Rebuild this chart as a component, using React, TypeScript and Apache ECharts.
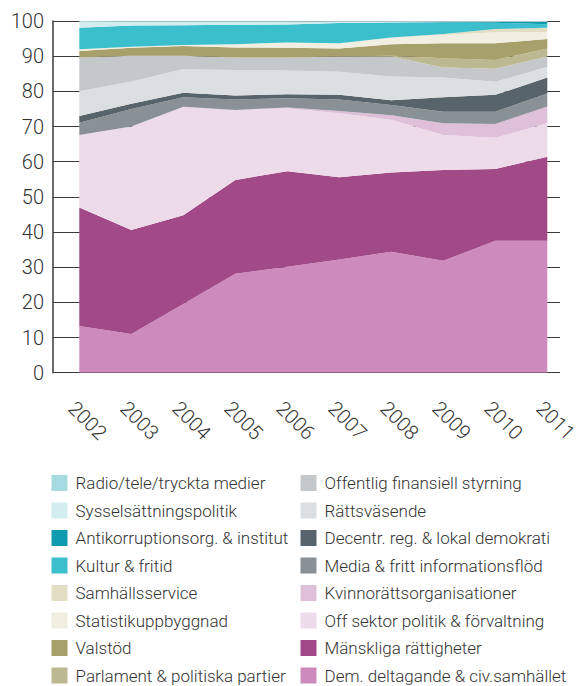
import React, { useEffect, useRef } from "react";
import * as echarts from "echarts";

const years = [2002, 2003, 2004, 2005, 2006, 2007, 2008, 2009, 2010, 2011];

// Stacked shares (%), bottom layer first
const demDeltagande = [13.3, 11.0, 19.5, 28.1, 30.1, 32.2, 34.4, 31.8, 37.5, 37.5];
const manskligaRattigheter = [33.7, 29.6, 25.3, 26.7, 27.2, 23.4, 22.5, 25.8, 20.4, 23.9];
const offSektor = [20.6, 29.4, 30.8, 19.9, 17.9, 18.2, 15.0, 10.0, 8.9, 9.5];
const kvinnorattsorg = [0, 0, 0, 0, 0.2, 0.6, 1.3, 3.3, 3.9, 4.8];
const mediaFritt = [3.5, 5.0, 2.7, 3.0, 2.6, 3.3, 2.9, 3.3, 3.5, 3.7];
const decentrReg = [1.9, 1.5, 1.3, 1.1, 1.2, 1.3, 1.4, 4.1, 4.8, 4.5];
const rattsvasende = [7.0, 6.3, 6.7, 7.3, 6.7, 6.6, 6.7, 5.6, 3.7, 3.1];
const offentligFinansiell = [9.6, 7.3, 3.8, 3.5, 3.7, 4.3, 5.7, 2.9, 3.7, 2.9];
const parlament = [0, 0, 0, 0, 0, 0, 0.2, 2.6, 2.5, 2.3];
const valstod = [1.9, 2.3, 2.8, 2.9, 2.8, 2.3, 3.3, 4.3, 4.8, 2.7];
const statistik = [0.5, 0.3, 0.3, 0.9, 1.5, 1.5, 1.9, 2.3, 3.1, 1.9];
const samhallsservice = [0, 0, 0, 0, 0, 0, 0, 0.3, 0.9, 1.3];
const kulturFritid = [6.1, 6.0, 5.6, 5.5, 5.1, 5.7, 4.3, 3.3, 1.8, 1.0];
const antikorruption = [0, 0, 0, 0, 0, 0, 0, 0.1, 0.2, 0.6];
const sysselsattning = [1.6, 1.1, 1.0, 0.9, 0.8, 0.5, 0.3, 0.2, 0.2, 0.2];
const radioTele = [0.3, 0.2, 0.2, 0.2, 0.2, 0.1, 0.1, 0.1, 0.1, 0.1];

const yTicks = [0, 10, 20, 30, 40, 50, 60, 70, 80, 90, 100];

const legendCol1 = [
  "Radio/tele/tryckta medier",
  "Sysselsättningspolitik",
  "Antikorruptionsorg. & institut",
  "Kultur & fritid",
  "Samhällsservice",
  "Statistikuppbyggnad",
  "Valstöd",
  "Parlament & politiska partier",
];
const legendCol2 = [
  "Offentlig finansiell styrning",
  "Rättsväsende",
  "Decentr. reg. & lokal demokrati",
  "Media & fritt informationsflöd",
  "Kvinnorättsorganisationer",
  "Off sektor politik & förvaltning",
  "Mänskliga rättigheter",
  "Dem. deltagande & civ.samhället",
];

const layers: [string, number[]][] = [
  ["Dem. deltagande & civ.samhället", demDeltagande],
  ["Mänskliga rättigheter", manskligaRattigheter],
  ["Off sektor politik & förvaltning", offSektor],
  ["Kvinnorättsorganisationer", kvinnorattsorg],
  ["Media & fritt informationsflöd", mediaFritt],
  ["Decentr. reg. & lokal demokrati", decentrReg],
  ["Rättsväsende", rattsvasende],
  ["Offentlig finansiell styrning", offentligFinansiell],
  ["Parlament & politiska partier", parlament],
  ["Valstöd", valstod],
  ["Statistikuppbyggnad", statistik],
  ["Samhällsservice", samhallsservice],
  ["Kultur & fritid", kulturFritid],
  ["Antikorruptionsorg. & institut", antikorruption],
  ["Sysselsättningspolitik", sysselsattning],
  ["Radio/tele/tryckta medier", radioTele],
];

const colors: Record<string, string> = {
  "Dem. deltagande & civ.samhället": "#cd8bbd",
  "Mänskliga rättigheter": "#a24a87",
  "Off sektor politik & förvaltning": "#eddbea",
  "Kvinnorättsorganisationer": "#dfc0da",
  "Media & fritt informationsflöd": "#899096",
  "Decentr. reg. & lokal demokrati": "#58646b",
  "Rättsväsende": "#dcdfe1",
  "Offentlig finansiell styrning": "#c4c8cb",
  "Parlament & politiska partier": "#bcb992",
  "Valstöd": "#a8a06a",
  "Statistikuppbyggnad": "#f1efe1",
  "Samhällsservice": "#e3dec3",
  "Kultur & fritid": "#3cbfcc",
  "Antikorruptionsorg. & institut": "#0f9bb0",
  "Sysselsättningspolitik": "#d2ecef",
  "Radio/tele/tryckta medier": "#a6dbe1",
};

const FONT = "Roboto";
const TEXT = "#333333";
const LINE = "#3a3a3a";

export default function App() {
  const ref = useRef<HTMLDivElement>(null);
  useEffect(() => {
    if (!ref.current) return;
    const chart = echarts.init(ref.current, undefined, { renderer: "svg" });
    const legendBase = {
      orient: "vertical" as const,
      top: 474,
      height: 212,
      padding: 0,
      itemWidth: 16,
      itemHeight: 16,
      itemGap: 9.5,
      icon: "rect",
      textStyle: {
        fontFamily: FONT,
        fontSize: 17,
        fontWeight: 300,
        color: TEXT,
        lineHeight: 18,
        padding: [0, 0, 0, 3],
      },
    };
    chart.setOption({
      animation: false,
      color: layers.map(([n]) => colors[n]),
      grid: [
        { left: 53, right: 26, top: 21, bottom: 313.3 },
        { left: 79.3, right: 38.7, top: 21, bottom: 313.3 },
      ],
      legend: [
        { ...legendBase, left: 51.5, data: legendCol1 },
        { ...legendBase, left: 300.5, data: legendCol2 },
      ],
      xAxis: [
        {
          type: "value",
          gridIndex: 0,
          position: "bottom",
          min: 2001.635,
          max: 2011.385,
          axisLine: { show: false },
          axisTick: { show: false },
          splitLine: { show: false },
          axisLabel: {
            customValues: years,
            rotate: -45,
            margin: 32,
            fontSize: 20,
            fontFamily: FONT,
            fontWeight: 300,
            color: TEXT,
            formatter: (v: number) => String(v),
          },
        },
        {
          type: "category",
          gridIndex: 1,
          data: years,
          boundaryGap: false,
          show: false,
        },
      ],
      yAxis: [
        {
          type: "value",
          gridIndex: 0,
          min: yTicks[0],
          max: yTicks[yTicks.length - 1],
          interval: 10,
          axisLine: { show: true, lineStyle: { color: LINE, width: 1.5 } },
          axisTick: { show: false },
          axisLabel: {
            margin: 9,
            fontSize: 20,
            fontFamily: FONT,
            fontWeight: 300,
            color: TEXT,
          },
          splitLine: { show: true, lineStyle: { color: LINE, width: 1.2 } },
        },
        {
          type: "value",
          gridIndex: 1,
          min: yTicks[0],
          max: yTicks[yTicks.length - 1],
          show: false,
        },
      ],
      series: layers.map(([name, vals]) => ({
        name,
        type: "line",
        stack: "total",
        xAxisIndex: 1,
        yAxisIndex: 1,
        symbol: "none",
        lineStyle: { width: 0 },
        areaStyle: { color: colors[name], opacity: 1 },
        itemStyle: { color: colors[name] },
        data: vals,
      })),
    });
    return () => chart.dispose();
  }, []);
  return (
    <div
      ref={ref}
      style={{ position: "absolute", left: 0, top: 0, width: 586, height: 686 }}
    />
  );
}
